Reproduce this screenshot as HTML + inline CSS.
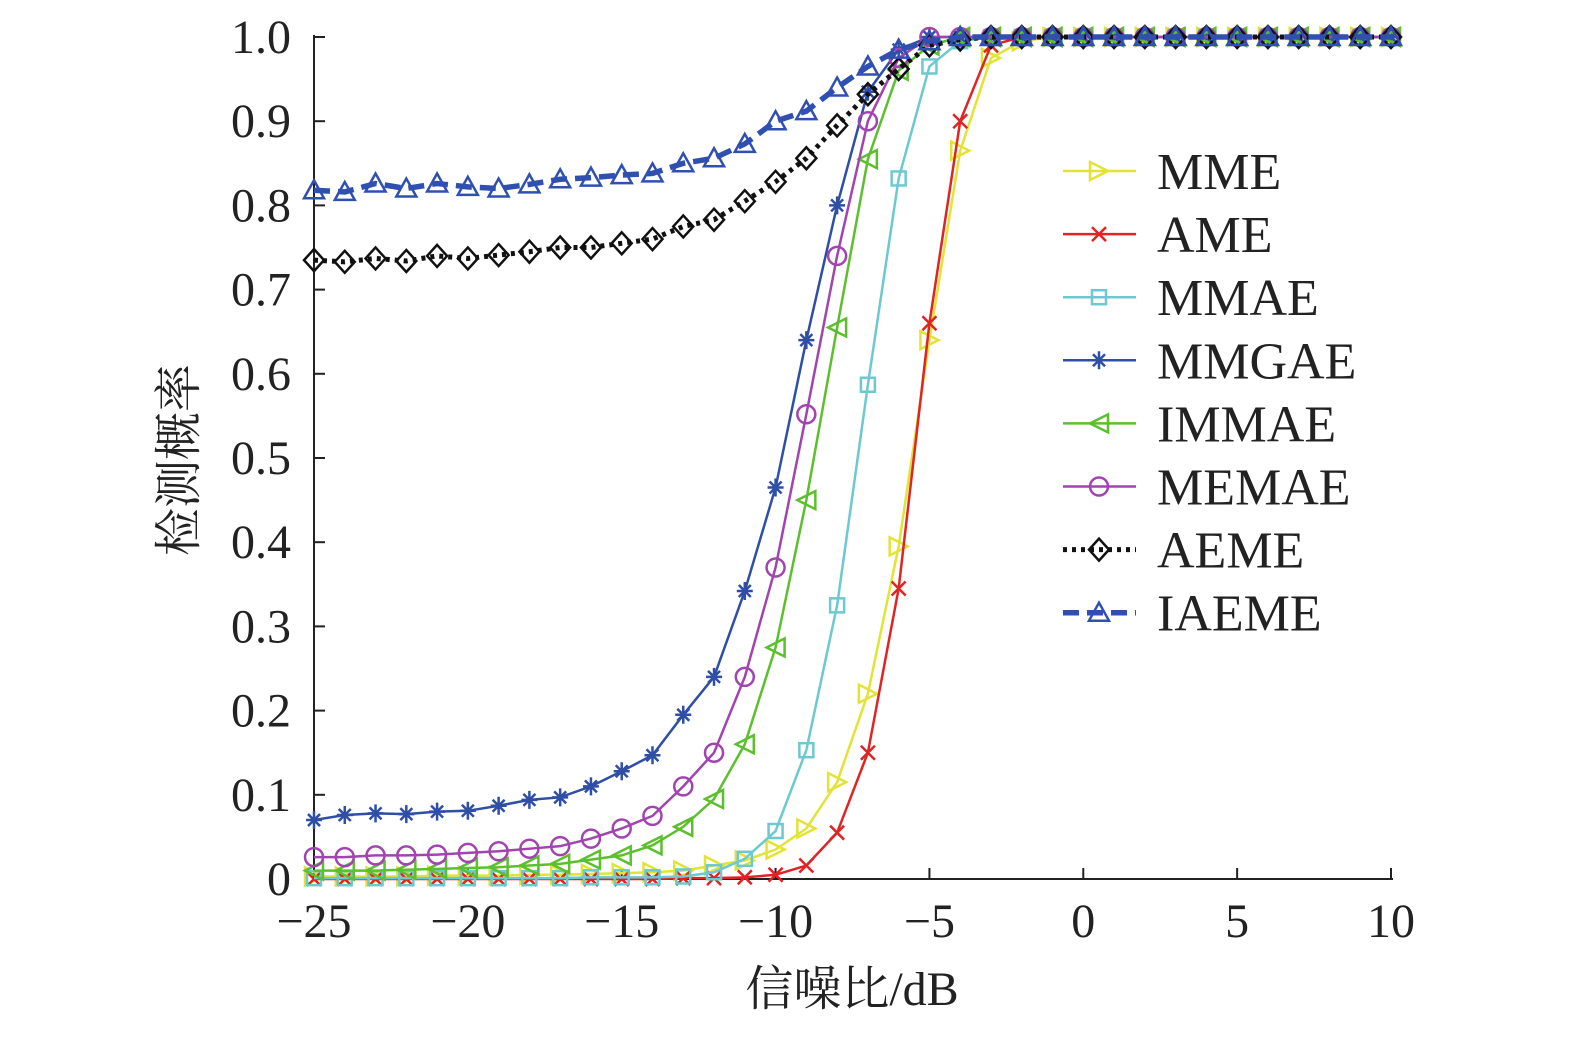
<!DOCTYPE html>
<html><head><meta charset="utf-8"><style>
html,body{margin:0;padding:0;background:#fff;}
svg text{font-family:"Liberation Serif","Noto Serif CJK SC",serif;fill:#222;}
</style></head><body>
<svg id="chart" width="1575" height="1034" xmlns="http://www.w3.org/2000/svg">
<g id="axes"></g>
<g id="series"></g>
<g id="legend"></g>
</svg>
<script>
const snr = [-25,-24,-23,-22,-21,-20,-19,-18,-17,-16,-15,-14,-13,-12,-11,-10,-9,-8,-7,-6,-5,-4,-3,-2,-1,0,1,2,3,4,5,6,7,8,9,10];
const xTicks = [-25,-20,-15,-10,-5,0,5,10];
const xTickLabels = ["\u221225","\u221220","\u221215","\u221210","\u22125","0","5","10"];
const yTicks = [0,0.1,0.2,0.3,0.4,0.5,0.6,0.7,0.8,0.9,1.0];
const yTickLabels = ["0","0.1","0.2","0.3","0.4","0.5","0.6","0.7","0.8","0.9","1.0"];
const tail = [1,1,1,1,1,1,1,1,1,1,1,1,1,1,1];
const mme = [0.003,0.003,0.003,0.003,0.004,0.004,0.004,0.005,0.005,0.006,0.007,0.008,0.01,0.016,0.022,0.035,0.06,0.115,0.22,0.395,0.64,0.865,0.975,0.995,1].concat(tail.slice(0,11));
const ame = [0,0,0,0,0,0,0,0,0,0,0,0,0.001,0.001,0.002,0.005,0.016,0.055,0.15,0.345,0.66,0.90,0.99,1,1].concat(tail.slice(0,11));
const mmae = [0.001,0.001,0.001,0.001,0.001,0.001,0.001,0.001,0.001,0.002,0.002,0.002,0.003,0.008,0.024,0.057,0.153,0.325,0.587,0.832,0.965,0.995,1,1,1].concat(tail.slice(0,11));
const mmgae = [0.07,0.076,0.078,0.077,0.08,0.081,0.087,0.094,0.097,0.11,0.128,0.147,0.195,0.24,0.342,0.465,0.64,0.80,0.935,0.985,1,1,1,1,1].concat(tail.slice(0,11));
const immae = [0.01,0.01,0.01,0.011,0.012,0.013,0.014,0.016,0.018,0.023,0.028,0.04,0.062,0.095,0.16,0.275,0.45,0.655,0.855,0.96,0.99,1,1,1,1].concat(tail.slice(0,11));
const memae = [0.026,0.026,0.028,0.028,0.029,0.031,0.033,0.036,0.039,0.048,0.06,0.075,0.11,0.15,0.24,0.37,0.552,0.74,0.90,0.975,1,1,1,1,1].concat(tail.slice(0,11));
const aeme = [0.735,0.733,0.737,0.734,0.74,0.737,0.741,0.745,0.75,0.75,0.755,0.76,0.775,0.783,0.805,0.828,0.856,0.895,0.932,0.962,0.99,0.997,1,1,1].concat(tail.slice(0,11));
const iaeme = [0.818,0.816,0.826,0.82,0.826,0.822,0.82,0.825,0.831,0.833,0.836,0.838,0.85,0.856,0.873,0.9,0.912,0.94,0.965,0.985,0.995,1,1,1,1].concat(tail.slice(0,11));
const seriesNames = ["MME","AME","MMAE","MMGAE","IMMAE","MEMAE","AEME","IAEME"];

const NS="http://www.w3.org/2000/svg";
const X0=314,X1=1391,Y0=879,Y1=37;
function xs(v){return X0+(v+25)/35*(X1-X0);}
function ys(v){return Y0-v*(Y0-Y1);}
function mk(tag,attrs,parent){const e=document.createElementNS(NS,tag);for(const k in attrs)e.setAttribute(k,attrs[k]);parent.appendChild(e);return e;}

const axes=document.getElementById('axes');
let l=mk('line',{x1:X0,y1:Y1-2,x2:X0,y2:Y0,stroke:'#222','stroke-width':2},axes);


l=mk('line',{x1:X0,y1:Y0,x2:X1+2,y2:Y0,stroke:'#222','stroke-width':2},axes);


xTicks.forEach((v,i)=>{
  const t=mk('line',{x1:xs(v),y1:Y0,x2:xs(v),y2:Y0-11,stroke:'#222','stroke-width':2},axes);
  
  
  const tx=mk('text',{x:xs(v),y:937,'text-anchor':'middle','font-size':48},axes);
  tx.textContent=xTickLabels[i];
  
  
});
yTicks.forEach((v,i)=>{
  const t=mk('line',{x1:X0,y1:ys(v),x2:X0+11,y2:ys(v),stroke:'#222','stroke-width':2},axes);
  
  
  const tx=mk('text',{x:291,y:ys(v)+16,'text-anchor':'end','font-size':48},axes);
  tx.textContent=yTickLabels[i];
  
  
});
let xt=mk('text',{x:852,y:1005,'text-anchor':'middle','font-size':48},axes);
xt.textContent='信噪比/dB';


let yt=mk('text',{x:0,y:0,'text-anchor':'middle','font-size':48,transform:'translate(195,460) rotate(-90)'},axes);
yt.textContent='检测概率';



const styles=[
 {c:'#e3e335',m:'rtri',w:2.5,d:''},
 {c:'#e02424',m:'x',w:2.5,d:''},
 {c:'#6cc9d0',m:'sq',w:2.5,d:''},
 {c:'#2f4ea6',m:'star',w:2.5,d:''},
 {c:'#5cbf2e',m:'ltri',w:2.5,d:''},
 {c:'#a244b0',m:'circ',w:2.5,d:''},
 {c:'#111',m:'dia',w:5,d:'4 5'},
 {c:'#2f50b0',m:'tri',w:5.5,d:'16 8'}
];
const data=[mme,ame,mmae,mmgae,immae,memae,aeme,iaeme];

function marker(g,type,x,y,c){
  const s=9,a={fill:'none',stroke:c,'stroke-width':2.5};
  let e;
  if(type==='rtri') e=mk('polygon',Object.assign({points:`${x-s},${y-s} ${x+s},${y} ${x-s},${y+s}`},a),g);
  else if(type==='ltri') e=mk('polygon',Object.assign({points:`${x+s},${y-s} ${x-s},${y} ${x+s},${y+s}`},a),g);
  else if(type==='tri') e=mk('polygon',Object.assign({points:`${x},${y-s-1} ${x+s+1},${y+s-1} ${x-s-1},${y+s-1}`},a),g);
  else if(type==='sq') e=mk('rect',Object.assign({x:x-7,y:y-7,width:14,height:14},a),g);
  else if(type==='circ') e=mk('circle',Object.assign({cx:x,cy:y,r:9},a),g);
  else if(type==='dia') e=mk('polygon',Object.assign({points:`${x},${y-s-2} ${x+s+1},${y} ${x},${y+s+2} ${x-s-1},${y}`},a),g);
  else if(type==='x') e=mk('path',Object.assign({d:`M${x-7},${y-7}L${x+7},${y+7}M${x+7},${y-7}L${x-7},${y+7}`},a),g);
  else if(type==='star') e=mk('path',Object.assign({d:`M${x-8},${y}L${x+8},${y}M${x},${y-9}L${x},${y+9}M${x-6},${y-6}L${x+6},${y+6}M${x+6},${y-6}L${x-6},${y+6}`},a),g);
  
  
}

const sg=document.getElementById('series');
data.forEach((arr,si)=>{
  const st=styles[si];
  const g=mk('g',{},sg);
  
  
  const pts=arr.map((v,i)=>xs(snr[i])+','+ys(v)).join(' ');
  const pl=mk('polyline',{points:pts,fill:'none',stroke:st.c,'stroke-width':st.w,'stroke-dasharray':st.d},g);
  
  
  arr.forEach((v,i)=>marker(g,st.m,xs(snr[i]),ys(v),st.c));
});

const lg=document.getElementById('legend');
seriesNames.forEach((n,i)=>{
  const st=styles[i];const y=171+i*63.1;
  const g=mk('g',{},lg);
  
  
  const ln=mk('line',{x1:1063,y1:y,x2:1136,y2:y,stroke:st.c,'stroke-width':st.w,'stroke-dasharray':st.d},g);
  
  
  marker(g,st.m,1099,y,st.c);
  const t=mk('text',{x:1157,y:y+18,'font-size':52},g);
  t.textContent=n;
  
  
});
</script>
</body></html>
